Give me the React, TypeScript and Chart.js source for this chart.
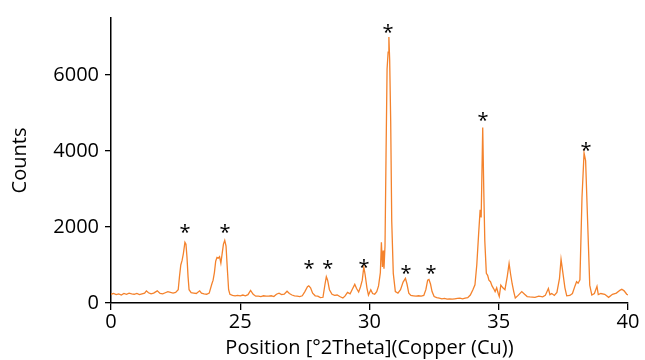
import React, { useEffect, useRef } from "react";
import { Chart, registerables } from "chart.js";

Chart.register(...registerables);

const twoTheta: number[] = [
  20.0, 20.1, 20.2, 20.3, 20.4, 20.5, 20.6, 20.7, 20.8, 20.9, 21.0, 21.1, 21.2, 21.3, 21.37, 21.45, 21.55, 21.65, 21.79, 21.9,
  22.0, 22.1, 22.2, 22.3, 22.4, 22.5, 22.6, 22.65, 22.7, 22.75, 22.8, 22.86, 22.9, 22.94, 22.98, 23.02, 23.1, 23.2, 23.3, 23.43,
  23.5, 23.6, 23.7, 23.8, 23.9, 23.95, 24.0, 24.05, 24.1, 24.15, 24.2, 24.25, 24.3, 24.35, 24.4, 24.45, 24.5, 24.55, 24.6, 24.7,
  24.8, 24.9, 25.0, 25.1, 25.2, 25.3, 25.4, 25.5, 25.6, 25.7, 25.8, 25.9, 26.0, 26.1, 26.2, 26.3, 26.4, 26.5, 26.6, 26.7,
  26.81, 26.9, 27.0, 27.1, 27.2, 27.3, 27.4, 27.5, 27.6, 27.65, 27.72, 27.8, 27.9, 28.0, 28.1, 28.2, 28.28, 28.33, 28.38, 28.45,
  28.55, 28.65, 28.75, 28.85, 28.97, 29.05, 29.15, 29.25, 29.35, 29.43, 29.5, 29.58, 29.65, 29.72, 29.78, 29.83, 29.9, 29.96, 30.05, 30.12,
  30.2, 30.28, 30.35, 30.42, 30.46, 30.5, 30.53, 30.56, 30.6, 30.64, 30.68, 30.72, 30.75, 30.78, 30.82, 30.86, 30.92, 31.0, 31.1, 31.2,
  31.3, 31.39, 31.45, 31.52, 31.6, 31.7, 31.8, 31.9, 32.0, 32.1, 32.18, 32.25, 32.3, 32.36, 32.42, 32.5, 32.6, 32.7, 32.8, 32.9,
  33.0, 33.1, 33.2, 33.3, 33.4, 33.5, 33.6, 33.7, 33.8, 33.9, 34.0, 34.08, 34.15, 34.22, 34.28, 34.32, 34.38, 34.42, 34.46, 34.52,
  34.57, 34.62, 34.68, 34.74, 34.8, 34.86, 34.92, 34.98, 35.02, 35.08, 35.16, 35.24, 35.33, 35.4, 35.46, 35.52, 35.58, 35.64, 35.75, 35.89,
  36.0, 36.1, 36.2, 36.4, 36.55, 36.7, 36.8, 36.92, 36.98, 37.05, 37.15, 37.25, 37.35, 37.41, 37.48, 37.56, 37.63, 37.75, 37.85, 37.95,
  38.01, 38.07, 38.14, 38.22, 38.3, 38.36, 38.45, 38.52, 38.6, 38.7, 38.8, 38.85, 38.95, 39.1, 39.25, 39.4, 39.55, 39.7, 39.76, 39.85,
  39.95, 40.0,
];

const counts: number[] = [
  230, 250, 220, 240, 210, 250, 230, 260, 240, 230, 250, 220, 240, 260, 320, 270, 240, 260, 320, 250,
  240, 270, 300, 280, 260, 280, 350, 700, 1000, 1120, 1300, 1600, 1550, 1200, 700, 350, 270, 260, 250, 320,
  260, 240, 230, 260, 500, 600, 800, 1100, 1200, 1180, 1220, 1050, 1300, 1550, 1650, 1500, 900, 350, 230, 200,
  190, 200, 190, 210, 190, 220, 330, 230, 180, 180, 170, 190, 180, 180, 190, 170, 230, 260, 220, 230,
  310, 250, 210, 190, 180, 170, 190, 300, 430, 450, 400, 260, 190, 180, 140, 150, 500, 690, 600, 350,
  230, 200, 210, 170, 130, 180, 280, 240, 380, 490, 380, 290, 420, 600, 950, 750, 400, 210, 350, 250,
  230, 300, 450, 800, 1600, 950, 1380, 900, 1500, 3900, 6160, 6600, 7000, 6400, 4770, 2160, 780, 300, 260, 350,
  550, 650, 500, 260, 200, 190, 180, 190, 180, 200, 350, 600, 620, 500, 300, 170, 140, 130, 110, 120,
  100, 110, 100, 110, 120, 130, 110, 130, 140, 210, 350, 480, 1000, 1800, 2450, 2250, 4620, 3000, 1640, 780,
  730, 600, 560, 450, 380, 300, 400, 250, 170, 470, 400, 350, 700, 1040, 750, 500, 300, 130, 200, 300,
  230, 170, 160, 150, 180, 160, 200, 380, 220, 250, 200, 280, 650, 1150, 800, 400, 190, 200, 250, 450,
  560, 520, 610, 2770, 3950, 3750, 1900, 470, 210, 250, 440, 220, 250, 230, 150, 230, 260, 340, 360, 320,
  230, 210,
];

// asterisk annotation positions (2theta, counts)
const starX: number[] = [22.86, 24.41, 27.66, 28.39, 29.79, 30.72, 31.41, 32.38, 34.39, 38.38];
const starY: number[] = [1930, 1930, 990, 990, 1017, 7200, 860, 860, 4900, 4095];

const xTicks: number[] = [20, 25, 30, 35, 40];
const xTickLabels: string[] = ["0", "25", "30", "35", "40"];
const yTicks: number[] = [0, 2000, 4000, 6000];
const yTickLabels: string[] = ["0", "2000", "4000", "6000"];

const FONT = "'Open Sans', sans-serif";
const LINE_COLOR = "#F4822C";

const starPlugin = {
  id: "stars",
  afterDatasetsDraw(chart: any) {
    const { ctx, scales } = chart;
    ctx.save();
    ctx.fillStyle = "#000";
    ctx.font = `20px ${FONT}`;
    ctx.textAlign = "center";
    ctx.textBaseline = "middle";
    for (let i = 0; i < starX.length; i++) {
      const px = scales.x.getPixelForValue(starX[i]);
      const py = scales.y.getPixelForValue(starY[i]);
      ctx.fillText("*", px, py + 4);
    }
    ctx.restore();
  },
};

export default function App() {
  const ref = useRef<HTMLCanvasElement | null>(null);
  useEffect(() => {
    if (!ref.current) return;
    const data = twoTheta.map((x, i) => ({ x, y: counts[i] }));
    const chart = new Chart(ref.current, {
      type: "scatter",
      data: {
        datasets: [
          {
            data,
            showLine: true,
            borderColor: LINE_COLOR,
            borderWidth: 1.3,
            pointRadius: 0,
            tension: 0,
          },
        ],
      },
      options: {
        animation: false,
        responsive: true,
        maintainAspectRatio: false,
        layout: { padding: { top: 14, right: 17, left: 0, bottom: 0 } },
        plugins: { legend: { display: false }, tooltip: { enabled: false } },
        scales: {
          x: {
            type: "linear",
            min: 20,
            max: 40,
            afterBuildTicks: (s: any) => {
              s.ticks = xTicks.map((v) => ({ value: v }));
            },
            afterFit: (s: any) => {
              s.height = 57;
            },
            ticks: {
              color: "#000",
              font: { family: FONT, size: 20 },
              padding: 0,
              maxRotation: 0,
              callback: (v: any) => {
                const i = xTicks.indexOf(Number(v));
                return i >= 0 ? xTickLabels[i] : "";
              },
            },
            grid: { display: true, drawOnChartArea: false, drawTicks: true, tickLength: 7, color: "#000", lineWidth: 1.3 },
            border: { display: true, color: "#000", width: 1.5 },
            title: {
              display: true,
              text: "Position [°2Theta](Copper (Cu))",
              color: "#000",
              font: { family: FONT, size: 20 },
              padding: { top: 0, bottom: 0 },
            },
          },
          y: {
            type: "linear",
            min: 0,
            max: 7500,
            afterBuildTicks: (s: any) => {
              s.ticks = yTicks.map((v) => ({ value: v }));
            },
            afterFit: (s: any) => {
              s.width = 111;
            },
            ticks: {
              color: "#000",
              font: { family: FONT, size: 20 },
              padding: 6,
              callback: (v: any) => {
                const i = yTicks.indexOf(Number(v));
                return i >= 0 ? yTickLabels[i] : "";
              },
            },
            grid: { display: true, drawOnChartArea: false, drawTicks: true, tickLength: 6, color: "#000", lineWidth: 1.3 },
            border: { display: true, color: "#000", width: 1.5 },
            title: {
              display: true,
              text: "Counts",
              color: "#000",
              font: { family: FONT, size: 20 },
              padding: { top: 8, bottom: 0 },
            },
          },
        },
      },
      plugins: [starPlugin],
    });
    return () => chart.destroy();
  }, []);
  return (
    <div style={{ position: "fixed", left: 0, top: 0, width: 645, height: 360 }}>
      <canvas ref={ref} />
    </div>
  );
}
